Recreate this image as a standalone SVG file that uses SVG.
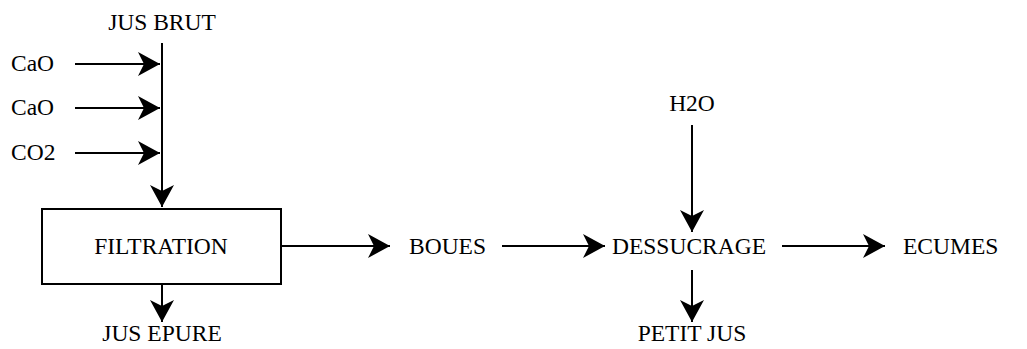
<svg xmlns="http://www.w3.org/2000/svg" width="1027" height="349" viewBox="0 0 1027 349">
<style>
.t{font-family:"Liberation Serif","Times New Roman",serif;font-size:23.5px;fill:#000}
.c{text-anchor:middle}
.e{stroke:#000;stroke-width:2;fill:none}
.n{fill:#fff;stroke:#000;stroke-width:2}
</style>
<defs>
<marker id="a" markerUnits="userSpaceOnUse" markerWidth="26" markerHeight="28" refX="24" refY="13" orient="auto" viewBox="0 0 26 26">
<path d="M24,13 L2,1 L8,13 L2,25 Z" fill="#000"/>
</marker>
</defs>
<rect width="1027" height="349" fill="#fff"/>
<g id="connectors">
<path class="e" d="M162,43 V207" marker-end="url(#a)"/>
<path class="e" d="M75,64 H160" marker-end="url(#a)"/>
<path class="e" d="M75,108 H160" marker-end="url(#a)"/>
<path class="e" d="M75,153 H160" marker-end="url(#a)"/>
<path class="e" d="M162,284 V322" marker-end="url(#a)"/>
<path class="e" d="M281,246 H390" marker-end="url(#a)"/>
<path class="e" d="M502,246 H605" marker-end="url(#a)"/>
<path class="e" d="M692,125 V232" marker-end="url(#a)"/>
<path class="e" d="M692,270 V322" marker-end="url(#a)"/>
<path class="e" d="M782,246 H885" marker-end="url(#a)"/>
</g>
<g id="jus-brut"><text class="t c" x="162" y="30">JUS BRUT</text></g>
<g id="cao1"><text class="t" x="11" y="71">CaO</text></g>
<g id="cao2"><text class="t" x="11" y="115">CaO</text></g>
<g id="co2"><text class="t" x="11" y="160">CO2</text></g>
<g id="filtration"><rect class="n" x="42" y="209" width="239" height="75"/><text class="t c" x="161" y="254">FILTRATION</text></g>
<g id="jus-epure"><text class="t c" x="162" y="341">JUS EPURE</text></g>
<g id="boues"><text class="t" x="409" y="254">BOUES</text></g>
<g id="h2o"><text class="t c" x="692" y="111">H2O</text></g>
<g id="dessucrage"><text class="t c" x="689" y="254">DESSUCRAGE</text></g>
<g id="petit-jus"><text class="t c" x="692" y="341">PETIT JUS</text></g>
<g id="ecumes"><text class="t" x="903" y="254">ECUMES</text></g>
</svg>
